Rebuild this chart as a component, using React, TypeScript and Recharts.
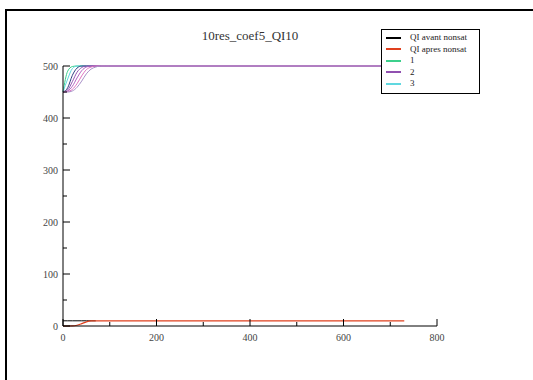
import { LineChart, Line, XAxis, YAxis } from 'recharts'

// time axis and values
const TIME = [0, 10, 20, 30, 40, 50, 60, 70, 80, 90, 100, 730]

const QI_AVANT = [10, 10, 10, 10, 10, 10, 10, 10, null, null, null, null]
const QI_APRES = [0, 0, 0.2, 1.5, 4.5, 8, 9.7, 10, 10, 10, 10, 10]

const RES_1 = [450, 490, 499, 500, 500, 500, 500, 500, 500, 500, 500, 500]
const RES_2 = [450, 475, 495, 500, 500, 500, 500, 500, 500, 500, 500, 500]
const RES_3 = [450, 458, 482, 496, 500, 500, 500, 500, 500, 500, 500, 500]
const RES_4 = [450, 454, 470, 488, 497, 500, 500, 500, 500, 500, 500, 500]
const RES_5 = [450, 452, 461, 477, 491, 498, 500, 500, 500, 500, 500, 500]
const RES_6 = [450, 451, 455, 466, 481, 493, 498, 500, 500, 500, 500, 500]
const RES_7 = [450, 450, 452, 459, 471, 485, 494, 498, 500, 500, 500, 500]

const X_TICKS = [0, 100, 200, 300, 400, 500, 600, 700, 800]
const Y_TICKS = [0, 50, 100, 150, 200, 250, 300, 350, 400, 450, 500]

const data = TIME.map((t, i) => ({
  t,
  avant: QI_AVANT[i],
  apres: QI_APRES[i],
  r1: RES_1[i],
  r2: RES_2[i],
  r3: RES_3[i],
  r4: RES_4[i],
  r5: RES_5[i],
  r6: RES_6[i],
  r7: RES_7[i],
}))

const FONT = '"Liberation Serif", "DejaVu Serif", serif'

const LEGEND_ITEMS = [
  { label: 'QI avant nonsat', color: '#000' },
  { label: 'QI apres nonsat', color: '#e0401e' },
  { label: '1', color: '#3cd08c' },
  { label: '2', color: '#9050b0' },
  { label: '3', color: '#60d8e0' },
]

function BottomTick({ x, y, payload }: any) {
  const major = payload.value % 200 === 0
  return (
    <g>
      <line x1={x} x2={x} y1={y} y2={y - (major ? 7 : 4)} stroke="#000" />
      {major && (
        <text x={x} y={y + 15} textAnchor="middle" fontSize={10} fontFamily={FONT} fill="#444">
          {payload.value}
        </text>
      )}
    </g>
  )
}

function TopTick({ x, y, payload }: any) {
  const major = payload.value % 200 === 0
  return <line x1={x} x2={x} y1={y} y2={y + (major ? 7 : 4)} stroke="#000" />
}

function LeftTick({ x, y, payload }: any) {
  const major = payload.value % 100 === 0
  return (
    <g>
      <line x1={x} x2={x + (major ? 7 : 4)} y1={y} y2={y} stroke="#000" />
      {major && (
        <text x={x - 5} y={y + 3.5} textAnchor="end" fontSize={10} fontFamily={FONT} fill="#444">
          {payload.value}
        </text>
      )}
    </g>
  )
}

function RightTick({ x, y, payload }: any) {
  const major = payload.value % 100 === 0
  return <line x1={x} x2={x - (major ? 7 : 4)} y1={y} y2={y} stroke="#000" />
}

function LegendBox() {
  return (
    <div
      style={{
        position: 'absolute',
        left: 381,
        top: 29,
        width: 99,
        boxSizing: 'border-box',
        background: '#fff',
        border: '1px solid #000',
        padding: '2px 4px 3px 4px',
        fontFamily: FONT,
        fontSize: 9,
        color: '#222',
        lineHeight: '11.5px',
      }}
    >
      {LEGEND_ITEMS.map((it) => (
        <div key={it.label} style={{ display: 'flex', alignItems: 'center' }}>
          <span style={{ display: 'inline-block', width: 15, height: 2, background: it.color, marginRight: 9 }} />
          <span>{it.label}</span>
        </div>
      ))}
    </div>
  )
}

export default function App() {
  return (
    <div style={{ position: 'absolute', left: 0, top: 0, width: 533, height: 380, background: '#fff', overflow: 'hidden' }}>
      <div
        style={{
          position: 'absolute',
          left: 5,
          top: 9,
          right: 0,
          bottom: 0,
          borderTop: '2px solid #000',
          borderLeft: '2px solid #000',
        }}
      />
      <div
        style={{
          position: 'absolute',
          left: 63,
          width: 374,
          top: 28,
          textAlign: 'center',
          fontFamily: FONT,
          fontSize: 13,
          color: '#333',
        }}
      >
        10res_coef5_QI10
      </div>
      <div style={{ position: 'absolute', left: 0, top: 0 }}>
        <LineChart width={533} height={380} data={data} margin={{ top: 66, right: 96, left: 0, bottom: 0 }}>
          <XAxis
            xAxisId="bottom"
            dataKey="t"
            type="number"
            domain={[0, 800]}
            ticks={X_TICKS}
            interval={0}
            height={54}
            tickSize={0}
            tickMargin={0}
            axisLine={{ stroke: '#000' }}
            tick={<BottomTick />}
          />
          <XAxis
            xAxisId="top"
            orientation="top"
            dataKey="t"
            type="number"
            domain={[0, 800]}
            ticks={X_TICKS}
            interval={0}
            height={0}
            tickSize={0}
            tickMargin={0}
            axisLine={{ stroke: '#000' }}
            tick={<TopTick />}
          />
          <YAxis
            yAxisId="left"
            type="number"
            domain={[0, 500]}
            ticks={Y_TICKS}
            interval={0}
            width={63}
            tickSize={0}
            tickMargin={0}
            axisLine={{ stroke: '#000' }}
            tick={<LeftTick />}
          />
          <YAxis
            yAxisId="right"
            orientation="right"
            type="number"
            domain={[0, 500]}
            ticks={Y_TICKS}
            interval={0}
            width={0}
            tickSize={0}
            tickMargin={0}
            axisLine={{ stroke: '#000' }}
            tick={<RightTick />}
          />
          <Line xAxisId="bottom" yAxisId="left" dataKey="r1" stroke="#3cd08c" dot={false} strokeWidth={1} type="monotone" isAnimationActive={false} name="1" />
          <Line xAxisId="bottom" yAxisId="left" dataKey="r2" stroke="#60d8e0" dot={false} strokeWidth={1} type="monotone" isAnimationActive={false} name="3" />
          <Line xAxisId="bottom" yAxisId="left" dataKey="r3" stroke="#304080" dot={false} strokeWidth={1} type="monotone" isAnimationActive={false} />
          <Line xAxisId="bottom" yAxisId="left" dataKey="r4" stroke="#9050b0" dot={false} strokeWidth={1} type="monotone" isAnimationActive={false} name="2" />
          <Line xAxisId="bottom" yAxisId="left" dataKey="r5" stroke="#b060c0" dot={false} strokeWidth={1} type="monotone" isAnimationActive={false} />
          <Line xAxisId="bottom" yAxisId="left" dataKey="r6" stroke="#e070c0" dot={false} strokeWidth={1} type="monotone" isAnimationActive={false} />
          <Line xAxisId="bottom" yAxisId="left" dataKey="r7" stroke="#a890c8" dot={false} strokeWidth={1} type="monotone" isAnimationActive={false} />
          <Line xAxisId="bottom" yAxisId="left" dataKey="avant" stroke="#000" dot={false} strokeWidth={1} type="monotone" isAnimationActive={false} name="QI avant nonsat" />
          <Line xAxisId="bottom" yAxisId="left" dataKey="apres" stroke="#e0401e" dot={false} strokeWidth={1.2} type="monotone" isAnimationActive={false} name="QI apres nonsat" />
        </LineChart>
      </div>
      <LegendBox />
    </div>
  )
}
